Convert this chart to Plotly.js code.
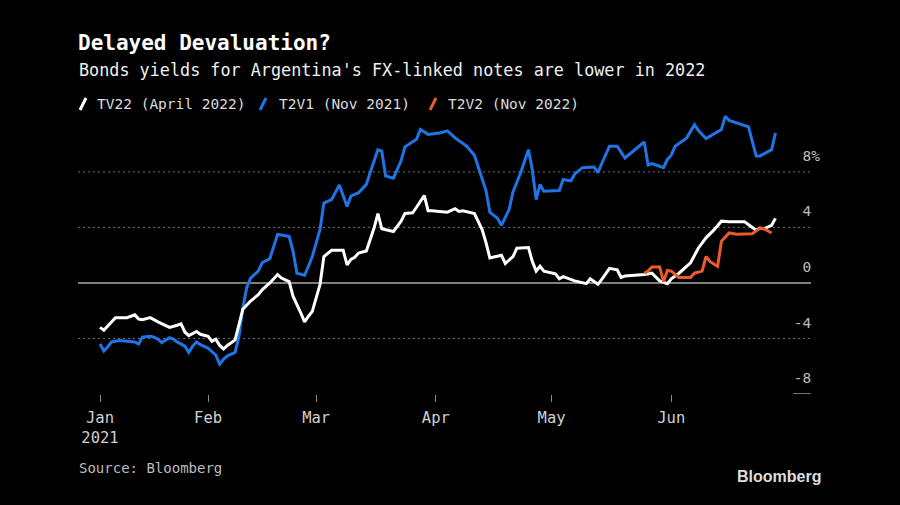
<!DOCTYPE html>
<html>
<head>
<meta charset="utf-8">
<script src="https://cdn.plot.ly/plotly-3.0.1.min.js"></script>
<style>
html,body{margin:0;padding:0;background:#000;}
#chart{width:900px;height:505px;}
</style>
</head>
<body>
<div id="chart"></div>
<script>
// ---------- DATA ----------
const tv22Dates = ["2021-01-04","2021-01-05","2021-01-06","2021-01-08","2021-01-10","2021-01-11","2021-01-13","2021-01-14","2021-01-15","2021-01-17","2021-01-19","2021-01-20","2021-01-22","2021-01-24","2021-01-25","2021-01-26","2021-01-27","2021-01-29","2021-01-30","2021-02-01","2021-02-02","2021-02-03","2021-02-04","2021-02-05","2021-02-06","2021-02-08","2021-02-10","2021-02-12","2021-02-14","2021-02-15","2021-02-17","2021-02-19","2021-02-20","2021-02-22","2021-02-23","2021-02-25","2021-02-26","2021-02-27","2021-02-28","2021-03-02","2021-03-03","2021-03-05","2021-03-08","2021-03-09","2021-03-10","2021-03-11","2021-03-12","2021-03-14","2021-03-16","2021-03-17","2021-03-18","2021-03-21","2021-03-23","2021-03-24","2021-03-26","2021-03-27","2021-03-29","2021-03-30","2021-03-31","2021-04-04","2021-04-06","2021-04-07","2021-04-08","2021-04-11","2021-04-13","2021-04-14","2021-04-15","2021-04-18","2021-04-19","2021-04-21","2021-04-22","2021-04-25","2021-04-26","2021-04-27","2021-04-28","2021-04-29","2021-05-02","2021-05-03","2021-05-04","2021-05-07","2021-05-10","2021-05-11","2021-05-13","2021-05-14","2021-05-16","2021-05-18","2021-05-19","2021-05-20","2021-05-25","2021-05-27","2021-05-29","2021-05-31","2021-06-01","2021-06-03","2021-06-06","2021-06-08","2021-06-10","2021-06-12","2021-06-14","2021-06-16","2021-06-20","2021-06-23","2021-06-24","2021-06-25","2021-06-27","2021-06-28"];
const tv22Values = [-3.2,-3.4,-3.1,-2.5,-2.5,-2.5,-2.3,-2.6,-2.65,-2.5,-2.8,-2.95,-3.2,-3.05,-2.95,-3.55,-3.8,-3.5,-3.7,-3.85,-4.2,-4.05,-4.5,-4.75,-4.5,-4.1,-1.9,-1.3,-0.85,-0.5,0,0.6,0.35,0.1,-0.95,-2.15,-2.8,-2.4,-2.05,-0.1,1.9,2.35,2.35,1.3,1.7,1.85,2.15,2.3,3.95,5.0,3.9,3.7,4.45,5.0,5.05,5.45,6.3,5.2,5.2,5.1,5.35,5.15,5.2,5.0,3.85,2.9,1.8,2.0,1.4,1.9,2.5,2.55,1.55,0.85,1.2,0.85,0.65,0.3,0.45,0.15,-0.05,0.3,-0.1,0.25,1.05,0.95,0.4,0.5,0.6,0.7,0.15,-0.05,0.3,0.7,1.45,2.5,3.25,3.8,4.45,4.4,4.4,3.8,3.95,3.9,4.15,4.65];

const t2v1Dates = ["2021-01-04","2021-01-05","2021-01-06","2021-01-07","2021-01-09","2021-01-11","2021-01-13","2021-01-14","2021-01-15","2021-01-17","2021-01-18","2021-01-19","2021-01-20","2021-01-22","2021-01-23","2021-01-24","2021-01-26","2021-01-27","2021-01-28","2021-01-29","2021-01-30","2021-02-01","2021-02-02","2021-02-03","2021-02-04","2021-02-05","2021-02-06","2021-02-08","2021-02-09","2021-02-10","2021-02-11","2021-02-12","2021-02-14","2021-02-15","2021-02-17","2021-02-19","2021-02-22","2021-02-23","2021-02-24","2021-02-26","2021-02-27","2021-02-28","2021-03-02","2021-03-03","2021-03-05","2021-03-07","2021-03-09","2021-03-10","2021-03-12","2021-03-14","2021-03-15","2021-03-17","2021-03-18","2021-03-19","2021-03-21","2021-03-23","2021-03-24","2021-03-27","2021-03-28","2021-03-30","2021-04-02","2021-04-04","2021-04-06","2021-04-09","2021-04-11","2021-04-13","2021-04-14","2021-04-15","2021-04-17","2021-04-18","2021-04-20","2021-04-21","2021-04-23","2021-04-25","2021-04-26","2021-04-27","2021-04-28","2021-04-29","2021-05-03","2021-05-04","2021-05-06","2021-05-07","2021-05-09","2021-05-12","2021-05-13","2021-05-14","2021-05-16","2021-05-18","2021-05-20","2021-05-25","2021-05-26","2021-05-27","2021-05-30","2021-05-31","2021-06-01","2021-06-02","2021-06-05","2021-06-07","2021-06-08","2021-06-10","2021-06-14","2021-06-15","2021-06-16","2021-06-21","2021-06-22","2021-06-23","2021-06-24","2021-06-27","2021-06-28"];
const t2v1Values = [-4.4,-4.9,-4.6,-4.25,-4.15,-4.2,-4.25,-4.4,-3.9,-3.85,-3.9,-4.05,-4.3,-3.95,-4.05,-4.25,-4.55,-5.0,-4.55,-4.25,-4.45,-4.7,-4.95,-5.2,-5.85,-5.5,-5.25,-5.0,-3.85,-1.8,-0.35,0.35,0.85,1.45,1.75,3.5,3.35,2.3,0.7,0.55,1.2,1.9,3.85,5.75,6.0,7.05,5.5,6.25,6.5,7.1,7.95,9.6,9.5,7.7,7.55,8.8,9.8,10.35,11.05,10.7,10.8,10.95,10.45,9.85,9.2,7.5,6.65,5.1,4.65,4.15,5.3,6.55,7.95,9.6,8.15,6.0,7.1,6.6,6.65,7.45,7.35,7.85,8.3,8.35,7.95,8.6,9.85,9.85,9.0,10.15,8.5,8.6,8.3,8.9,9.2,9.85,10.45,11.4,11.0,10.4,11.05,12.0,11.7,11.25,10.2,9.15,9.15,9.6,10.8];

const t2v2Dates = ["2021-05-25","2021-05-26","2021-05-27","2021-05-29","2021-05-30","2021-05-31","2021-06-01","2021-06-03","2021-06-06","2021-06-07","2021-06-09","2021-06-10","2021-06-11","2021-06-13","2021-06-14","2021-06-16","2021-06-18","2021-06-22","2021-06-24","2021-06-25","2021-06-27"];
const t2v2Values = [0.7,0.85,1.15,1.15,0.1,0.9,0.85,0.4,0.4,0.7,0.85,1.9,1.55,1.2,3.0,3.6,3.5,3.55,3.95,3.9,3.6];

const seriesNames = ["TV22 (April 2022)", "T2V1 (Nov 2021)", "T2V2 (Nov 2022)"];
const monthTickDates = ["2021-01-04","2021-02-01","2021-03-01","2021-04-01","2021-05-01","2021-06-01"];
const monthTickLabels = ["Jan<br>2021","Feb","Mar","Apr","May","Jun"];
const yTickValues = [-8,-4,0,4,8];
const yTickLabels = ["-8","-4","0","4","8%"];
const yGridValues = [-4,4,8];

// ---------- STYLE ----------
const MONO = '"DejaVu Sans Mono", monospace';
const COLORS = ["#ffffff", "#1f74e6", "#ec5a2d"];
const L = 78, R = 811, T = 108, B = 394;
const px = x => (x - L) / (R - L);
const py = y => (B - y) / (B - T);

const hid = '<span style="color:rgba(0,0,0,0)">%</span>';
const yTickText = yTickLabels.map(s => s.endsWith('%') ? s : s + hid);

const traces = [
  {x: tv22Dates, y: tv22Values, name: seriesNames[0], type: 'scatter', mode: 'lines',
   line: {color: COLORS[0], width: 3}},
  {x: t2v1Dates, y: t2v1Values, name: seriesNames[1], type: 'scatter', mode: 'lines',
   line: {color: COLORS[1], width: 3}},
  {x: t2v2Dates, y: t2v2Values, name: seriesNames[2], type: 'scatter', mode: 'lines',
   line: {color: COLORS[2], width: 3}}
];
const data = [traces[1], traces[0], traces[2]];

const legendX = [96, 278, 447];
const iconX = [80, 260, 430];
const annotations = [
  {text: "Bonds yields for Argentina's FX-linked notes are lower in 2022",
   xref: 'paper', yref: 'paper', x: px(77), y: py(70), xanchor: 'left', yanchor: 'middle',
   showarrow: false, font: {family: MONO, size: 16.8, color: '#f0f0f0'}},
  {text: "Source: Bloomberg", xref: 'paper', yref: 'paper', x: px(77), y: py(468),
   xanchor: 'left', yanchor: 'middle', showarrow: false,
   font: {family: MONO, size: 14, color: '#bdbdbd'}},
  {text: "<b>Bloomberg</b>", xref: 'paper', yref: 'paper', x: px(823), y: py(476),
   xanchor: 'right', yanchor: 'middle', showarrow: false,
   font: {family: '"Liberation Sans", Arial, sans-serif', size: 16, color: '#dddddd'}}
];
const shapes = [
  {type: 'line', xref: 'paper', yref: 'y', x0: px(793), x1: px(811), y0: -8, y1: -8,
   line: {color: '#9a9a9a', width: 1.5}}
];
yGridValues.forEach(v => {
  shapes.push({type: 'line', layer: 'below', xref: 'paper', yref: 'y', x0: 0, x1: 1, y0: v, y1: v,
    line: {color: '#707070', width: 1, dash: '2px,3px'}});
});
seriesNames.forEach((n, i) => {
  annotations.push({text: n, xref: 'paper', yref: 'paper', x: px(legendX[i] - 1), y: py(104),
    xanchor: 'left', yanchor: 'middle', showarrow: false,
    font: {family: MONO, size: 14.5, color: '#dcdcdc'}});
  shapes.push({type: 'line', xref: 'paper', yref: 'paper',
    x0: px(iconX[i]), y0: py(110), x1: px(iconX[i] + 6), y1: py(98),
    line: {color: COLORS[i], width: 3}});
});

const layout = {
  width: 900, height: 505,
  paper_bgcolor: '#000', plot_bgcolor: '#000',
  margin: {l: L, r: 900 - R, t: T, b: 505 - B, pad: 0},
  showlegend: false,
  hovermode: false,
  title: {text: '<b>Delayed Devaluation?</b>', font: {family: MONO, size: 21, color: '#ffffff'},
          x: 78 / 900, xref: 'container', xanchor: 'left', y: 1 - 43 / 505, yref: 'container', yanchor: 'middle'},
  xaxis: {type: 'date', range: ['2020-12-29 07:00', '2021-07-07 05:00'],
          tickmode: 'array', tickvals: monthTickDates, ticktext: monthTickLabels,
          ticks: 'outside', ticklen: 7, tickwidth: 1, tickcolor: '#8a8a8a',
          showgrid: false, zeroline: false, showline: false,
          ticklabelstandoff: 2,
          tickfont: {family: MONO, size: 15.5, color: '#cfcfcf'}},
  yaxis: {range: [-8, 12.6], side: 'right', tickmode: 'array', tickvals: yTickValues, ticktext: yTickText,
          ticks: '', showgrid: false, zeroline: true, zerolinecolor: '#7d7d7d', zerolinewidth: 1.5,
          showline: false, ticklabelposition: 'inside', ticklabelshift: -16, ticklabelstandoff: -12,
          tickfont: {family: MONO, size: 14.5, color: '#bdbdbd'}},
  annotations: annotations,
  shapes: shapes
};

Plotly.newPlot('chart', data, layout, {staticPlot: true, displayModeBar: false});
</script>
</body>
</html>
